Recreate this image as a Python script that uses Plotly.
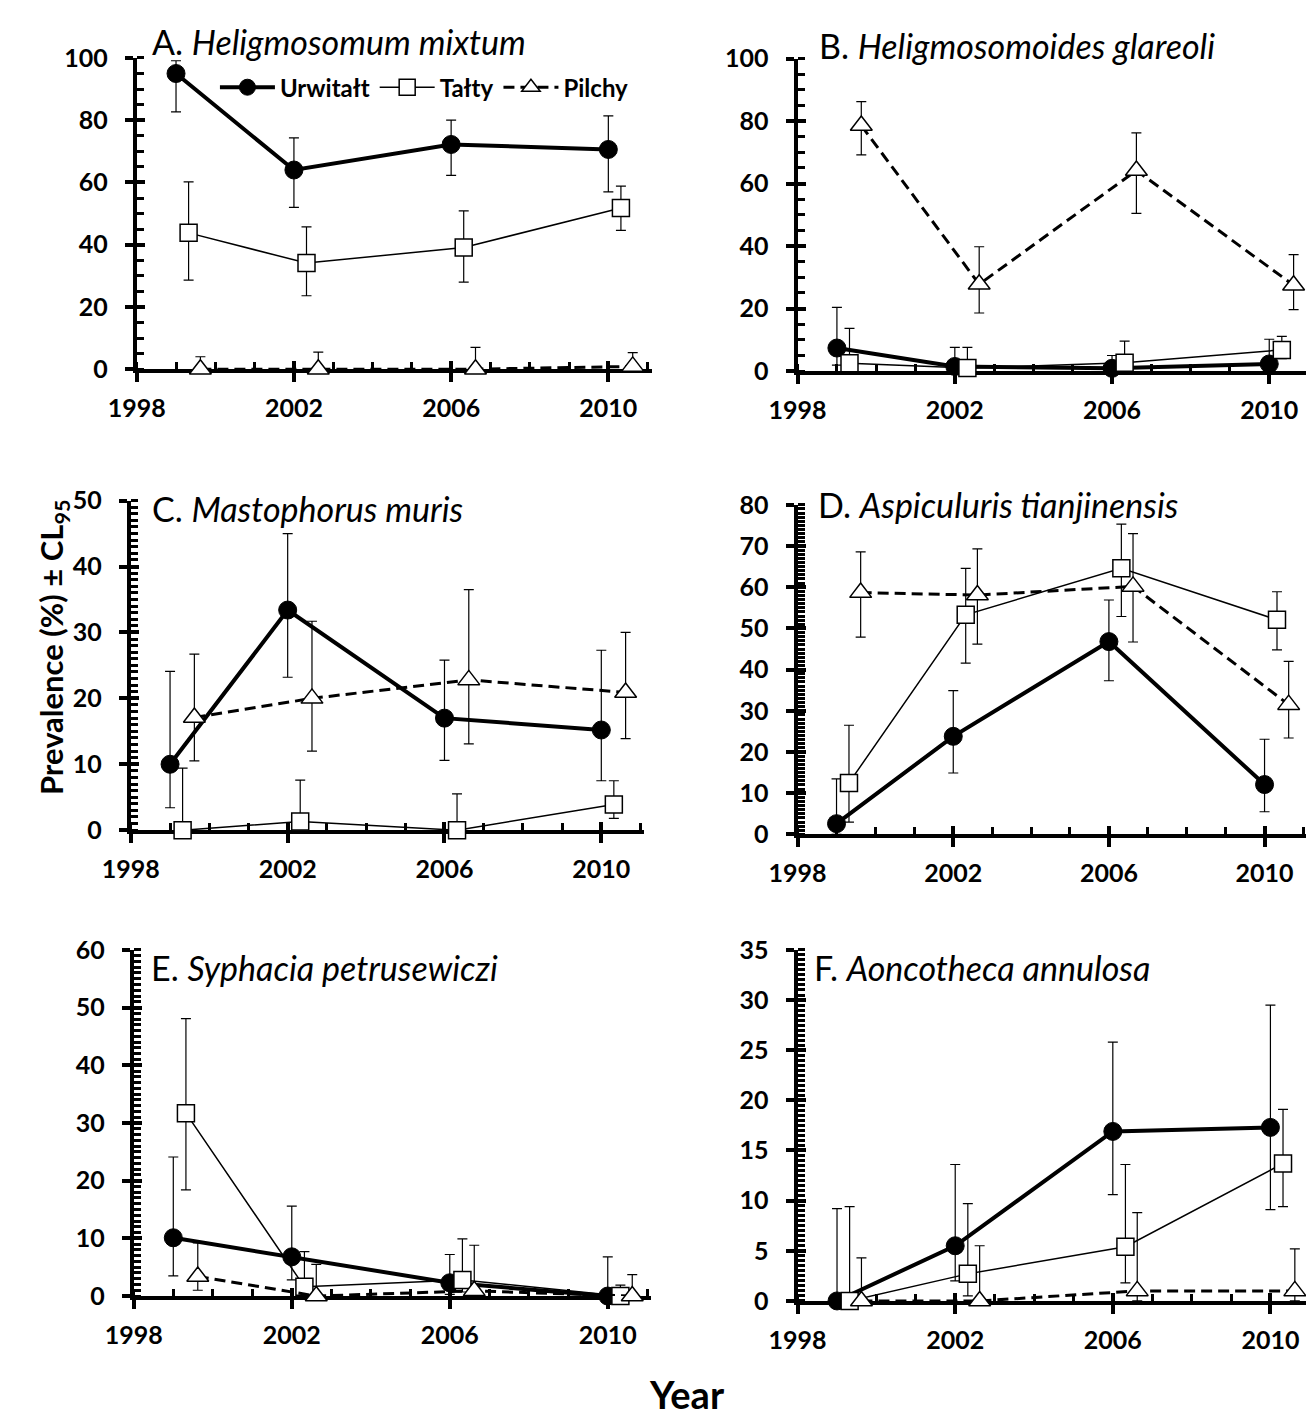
import plotly.graph_objects as go

# page body has an 8px default margin: size the figure so the page fits the window exactly
PAGE_W, PAGE_H = 1314, 1428
OFF = 8
W, H = PAGE_W - 2 * OFF, PAGE_H - 2 * OFF - 2

# ---------------- data ----------------
years = [1999, 2002, 2006, 2010]
sites = ["Urwitałt", "Tałty", "Pilchy"]
x_tick_values = [1998, 2002, 2006, 2010]
x_tick_labels = ["1998", "2002", "2006", "2010"]

panel_letters = ["A", "B", "C", "D", "E", "F"]
panel_species = ["Heligmosomum mixtum", "Heligmosomoides glareoli", "Mastophorus muris",
                 "Aspiculuris tianjinensis", "Syphacia petrusewiczi", "Aoncotheca annulosa"]

# A. Heligmosomum mixtum
a_urw = [95.0, 64.0, 72.2, 70.6]
a_urw_hi = [99.1, 74.3, 80.0, 81.4]
a_urw_lo = [82.7, 52.0, 62.3, 57.0]
a_tal = [43.8, 34.1, 39.1, 51.8]
a_tal_hi = [60.2, 45.7, 50.9, 58.8]
a_tal_lo = [28.6, 23.6, 28.0, 44.6]
a_pil = [0.0, 0.0, 0.0, 0.9]
a_pil_hi = [4.0, 5.5, 7.0, 5.3]
a_pil_lo = [0.0, 0.0, 0.0, 0.0]

# B. Heligmosomoides glareoli
b_urw = [7.4, 1.5, 0.9, 2.3]
b_urw_hi = [20.4, 7.6, 5.0, 10.2]
b_urw_lo = [1.9, 0.0, 0.0, 0.4]
b_tal = [2.5, 1.0, 2.7, 6.8]
b_tal_hi = [13.7, 7.6, 9.6, 11.1]
b_tal_lo = [0.0, 0.0, 0.0, 4.0]
b_pil = [78.6, 27.8, 64.2, 27.5]
b_pil_hi = [86.2, 39.8, 76.2, 37.3]
b_pil_lo = [69.2, 18.6, 50.5, 19.7]

# C. Mastophorus muris
c_urw = [10.0, 33.4, 17.0, 15.2]
c_urw_hi = [24.1, 45.0, 25.8, 27.3]
c_urw_lo = [3.4, 23.2, 10.6, 7.5]
c_tal = [0.0, 1.3, 0.0, 3.9]
c_tal_hi = [9.4, 7.6, 5.5, 7.5]
c_tal_lo = [0.0, 0.0, 0.0, 1.8]
c_pil = [17.1, 20.0, 22.8, 20.9]
c_pil_hi = [26.7, 31.7, 36.5, 30.0]
c_pil_lo = [10.5, 12.0, 13.1, 13.9]

# D. Aspiculuris tianjinensis
d_urw = [2.6, 23.8, 46.8, 12.1]
d_urw_hi = [13.5, 34.9, 56.9, 23.1]
d_urw_lo = [0.0, 14.9, 37.3, 5.5]
d_tal = [12.5, 53.3, 64.6, 52.1]
d_tal_hi = [26.5, 64.6, 75.3, 58.9]
d_tal_lo = [3.0, 41.6, 52.9, 44.8]
d_pil = [58.7, 58.1, 60.2, 31.5]
d_pil_hi = [68.6, 69.3, 73.0, 42.0]
d_pil_lo = [47.9, 46.2, 46.7, 23.4]

# E. Syphacia petrusewiczi
e_urw = [10.1, 6.8, 2.3, 0.0]
e_urw_hi = [24.1, 15.6, 7.2, 6.8]
e_urw_lo = [3.5, 2.8, 0.3, 0.0]
e_tal = [31.7, 1.6, 2.8, 0.0]
e_tal_hi = [48.1, 7.7, 9.9, 1.9]
e_tal_lo = [18.4, 0.3, 0.7, 0.0]
e_pil = [3.4, 0.0, 0.9, 0.0]
e_pil_hi = [9.2, 5.5, 8.8, 3.7]
e_pil_lo = [1.0, 0.0, 0.0, 0.0]

# F. Aoncotheca annulosa
f_urw = [0.0, 5.5, 16.9, 17.3]
f_urw_hi = [9.2, 13.6, 25.8, 29.5]
f_urw_lo = [0.0, 2.0, 10.6, 9.1]
f_tal = [0.0, 2.7, 5.4, 13.7]
f_tal_hi = [9.4, 9.7, 13.6, 19.1]
f_tal_lo = [0.0, 0.5, 1.8, 9.4]
f_pil = [0.0, 0.0, 1.0, 1.0]
f_pil_hi = [4.3, 5.5, 8.8, 5.2]
f_pil_lo = [0.0, 0.0, 0.0, 0.0]

panel_data = [
    [(a_urw, a_urw_hi, a_urw_lo), (a_tal, a_tal_hi, a_tal_lo), (a_pil, a_pil_hi, a_pil_lo)],
    [(b_urw, b_urw_hi, b_urw_lo), (b_tal, b_tal_hi, b_tal_lo), (b_pil, b_pil_hi, b_pil_lo)],
    [(c_urw, c_urw_hi, c_urw_lo), (c_tal, c_tal_hi, c_tal_lo), (c_pil, c_pil_hi, c_pil_lo)],
    [(d_urw, d_urw_hi, d_urw_lo), (d_tal, d_tal_hi, d_tal_lo), (d_pil, d_pil_hi, d_pil_lo)],
    [(e_urw, e_urw_hi, e_urw_lo), (e_tal, e_tal_hi, e_tal_lo), (e_pil, e_pil_hi, e_pil_lo)],
    [(f_urw, f_urw_hi, f_urw_lo), (f_tal, f_tal_hi, f_tal_lo), (f_pil, f_pil_hi, f_pil_lo)],
]

# y axis scales per panel (max, major step, minor step)
y_max = [100, 100, 50, 80, 60, 35]
y_major = [20, 20, 10, 10, 10, 5]
y_minor = [5, 5, 1, 1, 1, 0.5]

# ---------------- layout geometry (page pixels) ----------------
X_MAX = 2011.1
geom = [
    dict(x0=110, ppy=40.2, ytop=42.7, ybot=360.7, tx=124, ty=26),
    dict(x0=786, ppy=40.2, ytop=43.3, ybot=362.7, tx=806, ty=30),
    dict(x0=104, ppy=40.1, ytop=495.0, ybot=831.7, tx=124, ty=503),
    dict(x0=786, ppy=39.8, ytop=499.3, ybot=836.0, tx=805, ty=499),
    dict(x0=107, ppy=40.4, ytop=954.0, ybot=1307.7, tx=123, ty=972),
    dict(x0=786, ppy=40.3, ytop=954.0, ybot=1312.7, tx=801, ty=972),
]


def px_x(p):
    return (p - OFF) / W


def px_y(p):
    return 1 - (p - OFF) / H


FONT = "Lato"
styles = [
    dict(offset=0.0, line=dict(color="black", width=4),
         marker=dict(symbol="circle", size=18, color="black", line=dict(color="black", width=1))),
    dict(offset=0.32, line=dict(color="black", width=1.5),
         marker=dict(symbol="square", size=17, color="white", line=dict(color="black", width=1.5))),
    dict(offset=0.62, line=dict(color="black", width=3, dash="11px,6px"),
         marker=dict(symbol="triangle-up", size=19, color="white", line=dict(color="black", width=1.5))),
]

fig = go.Figure()
layout = {}
annotations = []

for i in range(6):
    n = i + 1
    no = i + 7
    g = geom[i]
    x_end_px = min(g["x0"] + (X_MAX - 1998) * g["ppy"], OFF + W)
    x_hi = 1998 + (x_end_px - g["x0"]) / g["ppy"]
    xd = [px_x(g["x0"]), px_x(x_end_px)]
    yd = [px_y(g["ybot"]), px_y(g["ytop"])]
    xs = "" if n == 1 else str(n)

    for s in range(3):
        vals, hi, lo = panel_data[i][s]
        st = styles[s]
        fig.add_trace(go.Scatter(
            x=[yr + st["offset"] for yr in years], y=vals,
            mode="lines+markers", name=sites[s],
            line=st["line"], marker=st["marker"],
            error_y=dict(type="data", symmetric=False,
                         array=[h - v for h, v in zip(hi, vals)],
                         arrayminus=[v - l for v, l in zip(vals, lo)],
                         color="black", thickness=1.2, width=5),
            xaxis="x" + xs, yaxis="y" + xs, cliponaxis=False,
            showlegend=(i == 0), hoverinfo="skip",
        ))
    # overlay dummy trace so the inside half of the crossing major ticks is drawn
    fig.add_trace(go.Scatter(x=[None], y=[None], xaxis="x%d" % no, yaxis="y%d" % no,
                             showlegend=False, hoverinfo="skip"))

    tickfont = dict(family=FONT, size=25, color="black", weight="bold")
    layout["xaxis" + xs] = dict(
        domain=xd, range=[1998, x_hi], anchor="y" + xs,
        tickmode="array", tickvals=x_tick_values, ticktext=x_tick_labels,
        ticks="outside", ticklen=9, tickwidth=4, tickcolor="black",
        showline=True, linewidth=4, linecolor="black",
        showgrid=False, zeroline=False, tickfont=tickfont, layer="below traces",
        ticklabelstandoff=5,
        minor=dict(tick0=1998, dtick=1, ticks="inside", ticklen=7, tickwidth=3,
                   tickcolor="black", showgrid=False),
        fixedrange=True,
    )
    layout["yaxis" + xs] = dict(
        domain=yd, range=[0, y_max[i]], anchor="x" + xs,
        tick0=0, dtick=y_major[i],
        ticks="outside", ticklen=8, tickwidth=4, tickcolor="black",
        showline=True, linewidth=4, linecolor="black",
        showgrid=False, zeroline=False, tickfont=tickfont, layer="below traces",
        ticklabelstandoff=12,
        minor=dict(tick0=0, dtick=y_minor[i], ticks="inside", ticklen=7, tickwidth=3,
                   tickcolor="black", showgrid=False),
        fixedrange=True,
    )
    layout["xaxis%d" % no] = dict(
        overlaying="x" + xs, anchor="y%d" % no, range=[1998, x_hi],
        tickmode="array", tickvals=x_tick_values, ticktext=x_tick_labels,
        ticks="inside", ticklen=8, tickwidth=4,
        tickcolor="black", showticklabels=False, showline=False, showgrid=False,
        zeroline=False, layer="below traces", fixedrange=True,
    )
    layout["yaxis%d" % no] = dict(
        overlaying="y" + xs, anchor="x%d" % no, range=[0, y_max[i]],
        tick0=0, dtick=y_major[i], ticks="inside", ticklen=8, tickwidth=4,
        tickcolor="black", showticklabels=False, showline=False, showgrid=False,
        zeroline=False, layer="below traces", fixedrange=True,
    )

    annotations.append(dict(
        text="%s. <i>%s</i>" % (panel_letters[i], panel_species[i]),
        x=px_x(g["tx"]), y=px_y(g["ty"]), xref="paper", yref="paper",
        xanchor="left", yanchor="middle", showarrow=False,
        font=dict(family=FONT, size=34, color="black"),
    ))

annotations.append(dict(
    text="Prevalence (%) ± CL<sub>95</sub>", textangle=-90,
    x=px_x(25), y=px_y(645), xref="paper", yref="paper",
    xanchor="center", yanchor="middle", showarrow=False,
    font=dict(family=FONT, size=31, color="black", weight="bold"),
))
annotations.append(dict(
    text="Year", x=px_x(673), y=px_y(1408), xref="paper", yref="paper",
    xanchor="center", yanchor="middle", showarrow=False,
    font=dict(family=FONT, size=38, color="black", weight="bold"),
))

fig.update_layout(
    width=W, height=H, margin=dict(l=0, r=0, t=0, b=0),
    paper_bgcolor="white", plot_bgcolor="rgba(0,0,0,0)",
    annotations=annotations,
    legend=dict(orientation="h", x=px_x(190), y=px_y(73), xanchor="left", yanchor="middle",
                font=dict(family=FONT, size=24, color="black", weight="bold"),
                itemwidth=55, bgcolor="rgba(0,0,0,0)", tracegroupgap=0,
                traceorder="normal"),
    **layout,
)

fig.write_html("out.html")
